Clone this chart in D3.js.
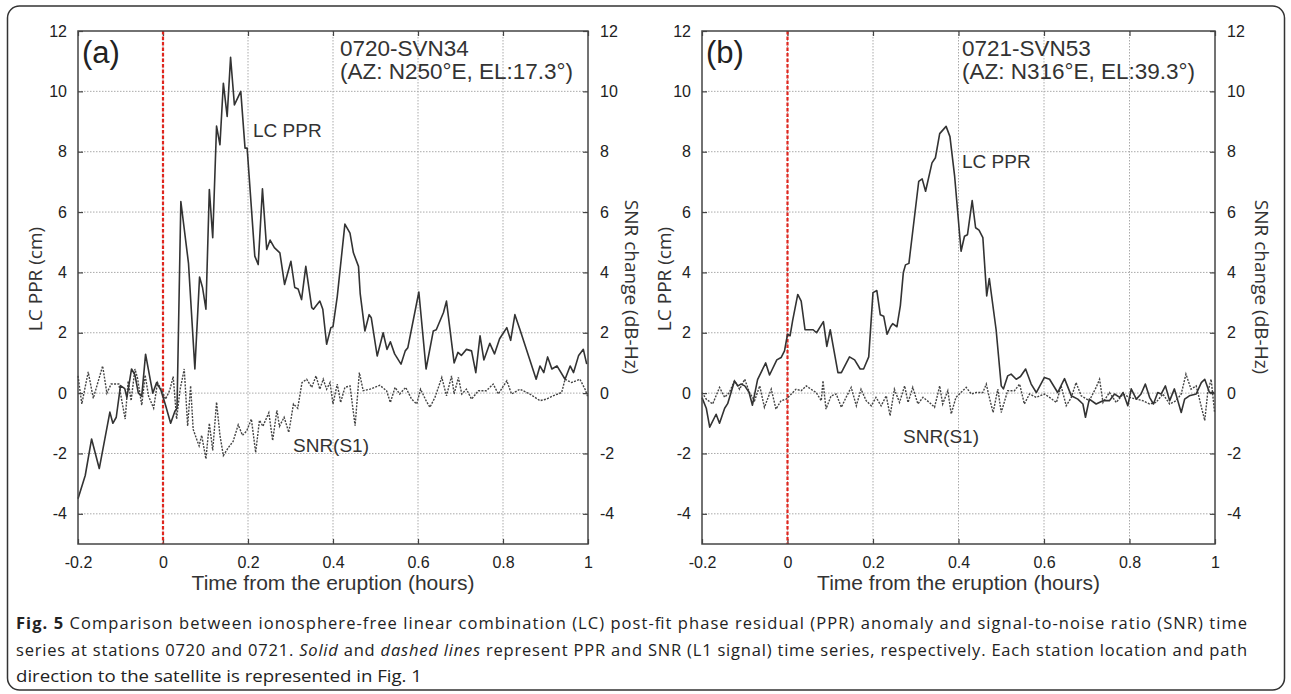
<!DOCTYPE html>
<html lang="en">
<head>
    <meta charset="UTF-8">
    <title>Fig. 5 LC PPR vs SNR</title>
    <script src="https://d3js.org/d3.v7.min.js"></script>
    <style>
        body { margin: 0; background: #fff; }
        .tick text { font-family: "Liberation Sans", Arial, sans-serif; font-size: 16px; fill: #222; }
        .tick line { stroke: #444; stroke-width: 1.2; }
    </style>
</head>
<body>
<div id="chart"></div>
<script>
    // ---- data ----
    let xTicks = [-0.2, 0, 0.2, 0.4, 0.6, 0.8, 1];
    let yTicks = [-4, -2, 0, 2, 4, 6, 8, 10, 12];

    // panel (a) station 0720, LC PPR (solid)
    let aPprTime = [-0.2, -0.183, -0.168, -0.15, -0.125, -0.118, -0.11, -0.1, -0.09, -0.085, -0.074, -0.066, -0.058, -0.05,
        -0.041, -0.03, -0.024, -0.015, -0.005, 0.006, 0.018, 0.028, 0.033, 0.042, 0.06, 0.075, 0.086, 0.093, 0.101, 0.109,
        0.117, 0.126, 0.134, 0.142, 0.151, 0.159, 0.168, 0.183, 0.193, 0.198, 0.216, 0.224, 0.234, 0.244, 0.252, 0.262,
        0.275, 0.286, 0.301, 0.31, 0.318, 0.326, 0.336, 0.35, 0.354, 0.369, 0.376, 0.385, 0.395, 0.4, 0.41, 0.428, 0.44,
        0.448, 0.46, 0.464, 0.475, 0.485, 0.49, 0.504, 0.518, 0.527, 0.535, 0.545, 0.56, 0.57, 0.576, 0.602, 0.619, 0.636,
        0.643, 0.66, 0.667, 0.685, 0.694, 0.702, 0.714, 0.726, 0.736, 0.746, 0.755, 0.769, 0.78, 0.792, 0.809, 0.818,
        0.828, 0.84, 0.878, 0.887, 0.896, 0.905, 0.915, 0.927, 0.946, 0.958, 0.966, 0.978, 0.989, 0.997];
    let aPpr = [-3.5, -2.73, -1.52, -2.5, -0.63, -1.0, -0.8, 0.25, 0.15, -0.15, 0.8, 0.6, 0.0, -0.1,
        1.29, 0.45, 0.0, 0.35, 0.1, -0.4, -1.0, -0.6, -0.5, 6.35, 4.3, 0.8, 3.85, 3.5, 2.78, 6.75,
        5.15, 8.85, 8.23, 10.27, 9.17, 11.13, 9.55, 10.0, 8.12, 8.12, 4.54, 4.26, 6.77, 4.76, 5.07, 4.82,
        4.65, 3.6, 4.37, 3.5, 3.45, 3.1, 4.2, 2.83, 2.78, 3.05, 2.78, 1.62, 2.17, 2.2, 3.2, 5.6, 5.3,
        4.65, 4.2, 3.3, 2.06, 2.6, 2.5, 1.23, 2.0, 1.45, 1.7, 1.3, 0.96, 1.4, 1.5, 3.35, 0.8, 2.06,
        2.1, 2.67, 3.05, 1.0, 1.35, 1.25, 1.45, 1.4, 0.68, 1.9, 1.1, 1.65, 1.3, 1.8, 2.17, 1.75,
        2.6, 2.1, 0.46, 0.9, 0.68, 1.2, 0.8, 0.9, 0.46, 0.9, 0.68, 1.25, 1.45, 0.96];

    // panel (a) SNR(S1) change (dotted)
    let aSnrTime = [-0.2, -0.191, -0.176, -0.164, -0.142, -0.132, -0.122, -0.104, -0.089, -0.082, -0.075, -0.066, -0.06,
        -0.05, -0.042, -0.034, -0.022, -0.013, -0.003, 0.006, 0.016, 0.024, 0.032, 0.04, 0.05, 0.058, 0.065, 0.071, 0.079,
        0.085, 0.091, 0.101, 0.109, 0.117, 0.126, 0.134, 0.142, 0.154, 0.165, 0.177, 0.187, 0.197, 0.208, 0.218, 0.227,
        0.235, 0.249, 0.258, 0.268, 0.274, 0.285, 0.296, 0.307, 0.317, 0.327, 0.338, 0.35, 0.36, 0.369, 0.377, 0.385,
        0.393, 0.4, 0.41, 0.418, 0.428, 0.44, 0.452, 0.462, 0.471, 0.487, 0.51, 0.526, 0.535, 0.546, 0.557, 0.571, 0.585,
        0.597, 0.606, 0.619, 0.628, 0.64, 0.656, 0.667, 0.679, 0.685, 0.695, 0.703, 0.714, 0.726, 0.742, 0.761, 0.777,
        0.789, 0.809, 0.82, 0.84, 0.863, 0.887, 0.902, 0.918, 0.938, 0.946, 0.961, 0.981, 0.993, 1.0];
    let aSnr = [0.57, -0.36, 0.7, -0.17, 0.9, 0.0, 0.3, 0.3, -0.86, 0.4, -0.25, 0.8, 0.5,
        -0.4, 0.6, -0.1, -0.5, 0.35, 0.1, -0.2, 0.1, 0.55, -0.86, 0.1, 0.8, -1.09, 0.24, -1.2, -1.52,
        -1.75, -1.4, -2.18, -1.0, -1.9, -0.3, -1.4, -2.07, -1.8, -1.6, -1.05, -1.4, -1.25, -0.86, -1.97, -0.9,
        -1.1, -0.65, -1.57, -0.57, -1.1, -0.8, -1.3, -0.36, -0.5, 0.35, 0.46, 0.19, 0.57, 0.13, 0.46, 0.13,
        0.35, -0.36, 0.3, -0.31, 0.19, 0.24, -1.08, 0.68, 0.08, 0.13, 0.26, 0.08, -0.31, 0.19, -0.03, 0.19, -0.2,
        -0.36, 0.13, -0.25, -0.47, -0.14, 0.52, -0.09, 0.57, -0.03, 0.52, -0.03, 0.13, -0.2, 0.08, 0.08, 0.3,
        -0.03, 0.41, -0.03, 0.13, -0.03, -0.25, -0.2, -0.09, 0.02, 0.46, 0.35, 0.46, 0.13, -0.14];

    // panel (b) station 0721, LC PPR (solid)
    let bPprTime = [-0.2, -0.19, -0.182, -0.167, -0.159, -0.147, -0.14, -0.124, -0.116, -0.109, -0.1, -0.09, -0.082, -0.07,
        -0.051, -0.042, -0.025, -0.015, -0.007, 0.0, 0.006, 0.012, 0.024, 0.032, 0.041, 0.06, 0.068, 0.084, 0.092, 0.1,
        0.106, 0.118, 0.126, 0.145, 0.157, 0.17, 0.178, 0.19, 0.2, 0.209, 0.217, 0.225, 0.233, 0.241, 0.246, 0.256,
        0.264, 0.271, 0.276, 0.284, 0.307, 0.315, 0.323, 0.338, 0.346, 0.356, 0.371, 0.38, 0.391, 0.406, 0.414, 0.421,
        0.432, 0.44, 0.448, 0.457, 0.466, 0.472, 0.488, 0.5, 0.505, 0.515, 0.523, 0.535, 0.545, 0.557, 0.57, 0.582,
        0.601, 0.613, 0.632, 0.648, 0.664, 0.679, 0.691, 0.697, 0.706, 0.722, 0.738, 0.753, 0.765, 0.777, 0.785, 0.796,
        0.804, 0.816, 0.827, 0.837, 0.847, 0.856, 0.866, 0.874, 0.884, 0.894, 0.905, 0.921, 0.929, 0.94, 0.956, 0.968,
        0.976, 0.987, 0.999];
    let bPpr = [-0.15, -0.5, -1.13, -0.7, -1.0, -0.5, -0.35, 0.4, 0.24, 0.3, 0.24, 0.03, -0.4, 0.45,
        1.0, 0.6, 1.1, 1.18, 1.4, 1.95, 1.9, 2.4, 3.27, 3.05, 2.1, 2.1, 2.0, 2.37, 1.55, 2.1,
        1.62, 0.68, 0.68, 1.2, 1.1, 0.8, 0.8, 1.2, 3.33, 3.4, 2.6, 2.55, 1.95, 2.2, 2.3, 2.2,
        2.9, 4.0, 4.25, 4.3, 7.02, 7.1, 6.69, 7.63, 7.8, 8.6, 8.84, 8.5, 7.18, 4.7, 5.2, 5.25,
        6.38, 5.48, 5.4, 5.15, 3.22, 3.8, 2.1, 0.24, 0.14, 0.57, 0.63, 0.46, 0.55, 0.8, 0.3, 0.02,
        0.52, 0.46, 0.02, 0.48, -0.09, -0.2, -0.36, -0.8, -0.2, -0.36, -0.25, -0.25, -0.03, -0.14, 0.02, -0.42,
        0.14, -0.2, -0.03, 0.3, -0.14, -0.36, 0.02, -0.03, 0.24, -0.25, 0.14, -0.64, -0.2, -0.09, -0.03, 0.35,
        0.46, 0.02, 0.02];

    // panel (b) SNR(S1) change (dotted)
    let bSnrTime = [-0.2, -0.19, -0.175, -0.159, -0.147, -0.136, -0.124, -0.112, -0.1, -0.089, -0.077, -0.065, -0.054,
        -0.038, -0.027, -0.015, -0.003, 0.009, 0.02, 0.032, 0.044, 0.055, 0.067, 0.079, 0.083, 0.09, 0.102, 0.114, 0.126,
        0.137, 0.149, 0.161, 0.172, 0.184, 0.196, 0.207, 0.219, 0.231, 0.24, 0.25, 0.262, 0.274, 0.282, 0.293, 0.305,
        0.317, 0.332, 0.344, 0.356, 0.363, 0.375, 0.383, 0.394, 0.418, 0.43, 0.441, 0.457, 0.465, 0.473, 0.481, 0.492,
        0.5, 0.515, 0.531, 0.543, 0.554, 0.566, 0.582, 0.601, 0.613, 0.629, 0.64, 0.652, 0.664, 0.675, 0.687, 0.706,
        0.722, 0.73, 0.738, 0.753, 0.769, 0.785, 0.8, 0.816, 0.831, 0.847, 0.862, 0.878, 0.894, 0.909, 0.921, 0.932,
        0.944, 0.956, 0.976, 0.983, 0.991, 0.999];
    let bSnr = [0.02, -0.2, -0.36, 0.19, -0.14, 0.02, 0.41, 0.13, 0.46, 0.02, -0.25, 0.24, -0.47,
        0.13, -0.53, -0.25, -0.2, -0.03, 0.13, 0.08, 0.24, 0.13, 0.02, -0.25, 0.41, -0.53, -0.09, -0.03, -0.47,
        -0.14, 0.19, -0.42, 0.13, -0.25, -0.42, -0.14, -0.42, -0.09, -0.75, 0.13, -0.31, 0.24, -0.31, 0.19, -0.36,
        -0.14, -0.31, -0.47, 0.24, -0.36, 0.08, -0.69, -0.14, 0.19, -0.03, 0.02, 0.02, 0.3, -0.2, -0.64, 0.13,
        -0.64, 0.08, 0.08, 0.3, -0.36, -0.03, -0.14, -0.03, -0.14, -0.31, 0.24, -0.42, -0.14, 0.35, -0.09, -0.25,
        0.19, 0.46, -0.31, 0.02, -0.31, -0.03, -0.14, -0.2, -0.25, -0.36, -0.31, -0.03, -0.36, -0.25, -0.03, 0.63,
        0.13, 0.24, -0.91, 0.02, 0.46, -0.64];

    let panelLetters = ['(a)', '(b)'];
    let stationNames = ['0720-SVN34', '0721-SVN53'];
    let stationGeometry = ['(AZ: N250°E, EL:17.3°)', '(AZ: N316°E, EL:39.3°)'];
    let eruptionTime = 0;

    let captionLines = [
        [{t: 'Fig. 5', b: true}, {t: ' Comparison between ionosphere-free linear combination (LC) post-fit phase residual (PPR) anomaly and signal-to-noise ratio (SNR) time'}],
        [{t: 'series at stations 0720 and 0721. '}, {t: 'Solid', i: true}, {t: ' and '}, {t: 'dashed lines', i: true}, {t: ' represent PPR and SNR (L1 signal) time series, respectively. Each station location and path'}],
        [{t: 'direction to the satellite is represented in Fig. 1'}]
    ];

    // ---- layout ----
    let W = 1291, H = 694;
    let svg = d3.select('#chart').append('svg')
        .attr('width', W).attr('height', H);

    svg.append('rect')
        .attr('x', 7.5).attr('y', 6).attr('width', 1277).attr('height', 684)
        .attr('rx', 12).attr('fill', 'none').attr('stroke', '#333').attr('stroke-width', 1.5);

    let panels = [
        {left: 78, right: 588, ppr: [aPprTime, aPpr], snr: [aSnrTime, aSnr],
            lcLabel: [253, 137], snrLabel: [293, 452], leftTitle: 35, rightTitle: 632, stationX: 340},
        {left: 702, right: 1215, ppr: [bPprTime, bPpr], snr: [bSnrTime, bSnr],
            lcLabel: [962, 168], snrLabel: [903, 443], leftTitle: 664, rightTitle: 1262, stationX: 962}
    ];
    let plotTop = 31, plotBottom = 544;

    // plain hyphen minus, as in the original figure
    let fmt = d => String(d);

    panels.forEach(function (p, k) {
        let x = d3.scaleLinear().domain([-0.2, 1]).range([p.left, p.right]);
        let y = d3.scaleLinear().domain([-5, 12]).range([plotBottom, plotTop]);
        let g = svg.append('g');

        // dotted grid
        g.append('g').selectAll('line').data(xTicks.slice(1, -1)).enter().append('line')
            .attr('x1', d => x(d)).attr('x2', d => x(d)).attr('y1', plotTop).attr('y2', plotBottom)
            .attr('stroke', '#aaa').attr('stroke-width', 1).attr('stroke-dasharray', '1.5,1.5');
        g.append('g').selectAll('line').data(yTicks.slice(0, -1)).enter().append('line')
            .attr('x1', p.left).attr('x2', p.right).attr('y1', d => y(d)).attr('y2', d => y(d))
            .attr('stroke', '#aaa').attr('stroke-width', 1).attr('stroke-dasharray', '1.5,1.5');

        // axes, ticks pointing inward
        let ax = [
            g.append('g').attr('transform', 'translate(0,' + plotBottom + ')')
                .call(d3.axisBottom(x).tickValues(xTicks).tickFormat(fmt).tickSize(-5).tickPadding(13)),
            g.append('g').attr('transform', 'translate(0,' + plotTop + ')')
                .call(d3.axisTop(x).tickValues(xTicks).tickFormat('').tickSize(-5)),
            g.append('g').attr('transform', 'translate(' + p.left + ',0)')
                .call(d3.axisLeft(y).tickValues(yTicks).tickFormat(fmt).tickSize(-5).tickPadding(11)),
            g.append('g').attr('transform', 'translate(' + p.right + ',0)')
                .call(d3.axisRight(y).tickValues(yTicks).tickFormat(fmt).tickSize(-5).tickPadding(12))
        ];
        ax.forEach(a => a.select('.domain').remove());

        // eruption onset
        g.append('line')
            .attr('x1', x(eruptionTime)).attr('x2', x(eruptionTime)).attr('y1', plotTop).attr('y2', plotBottom)
            .attr('stroke', '#e0261e').attr('stroke-width', 2.2).attr('stroke-dasharray', '3.5,2');

        // series
        let line = d3.line().x(d => x(d[0])).y(d => y(d[1]));
        let snrPts = p.snr[0].map((t, i) => [t, p.snr[1][i]]);
        let pprPts = p.ppr[0].map((t, i) => [t, p.ppr[1][i]]);
        g.append('path').datum(snrPts).attr('d', line)
            .attr('fill', 'none').attr('stroke', '#444').attr('stroke-width', 1.4).attr('stroke-dasharray', '2,1.3');
        g.append('path').datum(pprPts).attr('d', line)
            .attr('fill', 'none').attr('stroke', '#333').attr('stroke-width', 1.6).attr('stroke-linejoin', 'round');

        // frame
        g.append('rect').attr('x', p.left).attr('y', plotTop)
            .attr('width', p.right - p.left).attr('height', plotBottom - plotTop)
            .attr('fill', 'none').attr('stroke', '#444').attr('stroke-width', 1.5);

        // texts
        let sans = '"Liberation Sans", Arial, sans-serif';
        let human = '"Open Sans", "Noto Sans", sans-serif';
        g.append('text').attr('x', p.left + 4).attr('y', 63).text(panelLetters[k])
            .attr('font-family', sans).attr('font-size', 31).attr('fill', '#222');
        g.append('text').attr('x', p.stationX).attr('y', 56).text(stationNames[k])
            .attr('font-family', sans).attr('font-size', 22.5).attr('fill', '#333');
        g.append('text').attr('x', p.stationX).attr('y', 79).text(stationGeometry[k])
            .attr('font-family', sans).attr('font-size', 22.5).attr('fill', '#333');
        g.append('text').attr('x', p.lcLabel[0]).attr('y', p.lcLabel[1]).text('LC PPR')
            .attr('font-family', sans).attr('font-size', 19).attr('fill', '#333');
        g.append('text').attr('x', p.snrLabel[0]).attr('y', p.snrLabel[1]).text('SNR(S1)')
            .attr('font-family', sans).attr('font-size', 19).attr('fill', '#333');
        g.append('text').attr('transform', 'translate(' + p.leftTitle + ',279) rotate(-90)')
            .attr('text-anchor', 'middle').attr('dy', '0.35em').text('LC PPR (cm)')
            .attr('font-family', human).attr('font-size', 19).attr('fill', '#333');
        g.append('text').attr('transform', 'translate(' + p.rightTitle + ',287) rotate(90)')
            .attr('text-anchor', 'middle').attr('dy', '0.35em').text('SNR change (dB-Hz)')
            .attr('font-family', human).attr('font-size', 19).attr('fill', '#333');
        g.append('text').attr('x', (p.left + p.right) / 2).attr('y', 590)
            .attr('text-anchor', 'middle').text('Time from the eruption (hours)')
            .attr('font-family', sans).attr('font-size', 21).attr('fill', '#333');
    });

    // caption (justified in the original, so the first two lines are spread to full width)
    let capY = [629, 656, 682];
    let capLen = [1231, 1231, 406];
    let capAdjust = ['spacing', 'spacing', 'spacingAndGlyphs'];
    captionLines.forEach(function (parts, i) {
        let t = svg.append('text').attr('x', 16).attr('y', capY[i])
            .attr('font-family', '"Open Sans", "Noto Sans", sans-serif').attr('font-size', 16.5).attr('fill', '#222')
            .attr('textLength', capLen[i]).attr('lengthAdjust', capAdjust[i]);
        parts.forEach(function (s) {
            t.append('tspan').text(s.t)
                .attr('font-weight', s.b ? 'bold' : null)
                .attr('font-style', s.i ? 'italic' : null);
        });
    });
</script>
</body>
</html>
